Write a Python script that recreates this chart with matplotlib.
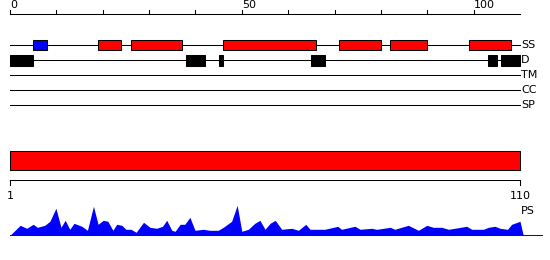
import matplotlib
matplotlib.use("Agg")
import matplotlib.pyplot as plt
from matplotlib.patches import Rectangle

# ---- data ----
seq_len = 110
ruler_ticks = list(range(0, 101, 10))
ruler_labels = {0: "0", 50: "50", 100: "100"}
track_names = ["SS", "D", "TM", "CC", "SP"]

ss_helix = [(19, 24), (26, 37), (46, 66), (71, 80), (82, 90), (99, 108)]
ss_strand = [(5, 8)]
disorder = [(0, 5), (38, 42), (45, 46), (65, 68), (103, 105), (106, 110)]

domain_span = (0, 110)
domain_labels = ["1", "110"]

profile_pos = [0.0, 2.2, 3.6, 5.0, 5.9, 7.5, 8.6, 9.9, 11.0, 11.9, 12.9, 13.8,
               15.5, 16.7, 18.0, 19.0, 20.1, 21.1, 22.2, 23.0, 24.1, 25.0,
               26.1, 27.2, 28.8, 30.2, 31.6, 32.9, 33.8, 34.9, 35.6, 36.7,
               37.7, 38.8, 39.9, 41.7, 43.1, 44.9, 46.0, 47.8, 49.0, 50.0,
               51.4, 52.8, 53.9, 55.0, 56.1, 57.2, 58.6, 60.8, 62.2, 63.8,
               64.7, 67.9, 70.7, 71.5, 74.4, 75.5, 78.0, 79.1, 82.0, 83.0,
               85.9, 88.1, 89.9, 91.3, 93.1, 94.6, 98.5, 99.6, 102.1, 103.2,
               104.6, 105.7, 107.3, 108.2, 110.0, 110.7]
profile_val = [0, 10, 7, 11, 8, 10, 14, 27, 8, 15, 6, 12,
               9, 5, 29, 11, 15, 14, 5, 11, 10, 6,
               6, 3, 13, 8, 7, 9, 15, 5, 4, 11,
               11, 18, 5, 6, 5, 5, 8, 14, 30, 4,
               6, 12, 15, 6, 12, 15, 6, 7, 5, 11,
               6, 6, 9, 6, 9, 6, 7, 6, 8, 6,
               10, 5, 10, 8, 8, 6, 9, 6, 6, 8,
               9, 7, 6, 11, 14, 0]

# ---- layout (pixels) ----
W, H = 550, 260
x0px, x1px = 10, 520
scale = (x1px - x0px) / seq_len
fs = 8
lw = 0.75

fig = plt.figure(figsize=(W / 100, H / 100), dpi=100)
ax = fig.add_axes([0, 0, 1, 1])
ax.set_xlim(-x0px / scale, (W - x0px) / scale)
ax.set_ylim(H, 0)
ax.axis("off")

# top ruler
ruler_y = 14
ax.plot([0, seq_len], [ruler_y, ruler_y], color="black", lw=lw)
for t in ruler_ticks:
    ax.plot([t, t], [ruler_y - 4, ruler_y], color="black", lw=lw)
    if t in ruler_labels:
        ax.text(t, ruler_y - 3.5, ruler_labels[t], fontsize=fs, ha="left",
                va="bottom", color="black")

# tracks
track_y = [45, 60, 75, 90, 105]
for name, y in zip(track_names, track_y):
    ax.plot([0, seq_len], [y, y], color="black", lw=lw, zorder=1)
    ax.text(seq_len + 0.2, y, name, fontsize=fs, ha="left", va="center")

ss_y = track_y[0]
for (a, b) in ss_helix:
    ax.add_patch(Rectangle((a, ss_y - 5), b - a, 10, facecolor="#ff0000",
                           edgecolor="black", lw=lw, zorder=2))
for (a, b) in ss_strand:
    ax.add_patch(Rectangle((a, ss_y - 5), b - a, 10, facecolor="#0000ff",
                           edgecolor="black", lw=lw, zorder=2))
d_y = track_y[1]
for (a, b) in disorder:
    ax.add_patch(Rectangle((a, d_y - 5.5), b - a, 11, facecolor="black",
                           edgecolor="black", lw=lw, zorder=2))

# domain bar
ax.add_patch(Rectangle((domain_span[0], 150.7), domain_span[1] - domain_span[0],
                       19.6, facecolor="#ff0000", edgecolor="black", lw=lw,
                       zorder=2))

# bottom ruler
br_y = 180.3
ax.plot([0, seq_len], [br_y, br_y], color="black", lw=lw)
for t, lab in zip([0, seq_len], domain_labels):
    ax.plot([t, t], [br_y, br_y + 5], color="black", lw=lw)
    ax.text(t, 196, lab, fontsize=fs, ha="center", va="center")

# profile
base_y = 235.3
ax.fill_between(profile_pos, [base_y] * len(profile_pos),
                [base_y - v for v in profile_val], color="#0000ff", lw=0)
ax.plot([0, (542 - x0px) / scale], [base_y, base_y], color="#0000ff", lw=lw)
ax.text(seq_len + 0.2, 210.5, "PS", fontsize=fs, ha="left", va="center")

fig.savefig("out.png", dpi=100)
